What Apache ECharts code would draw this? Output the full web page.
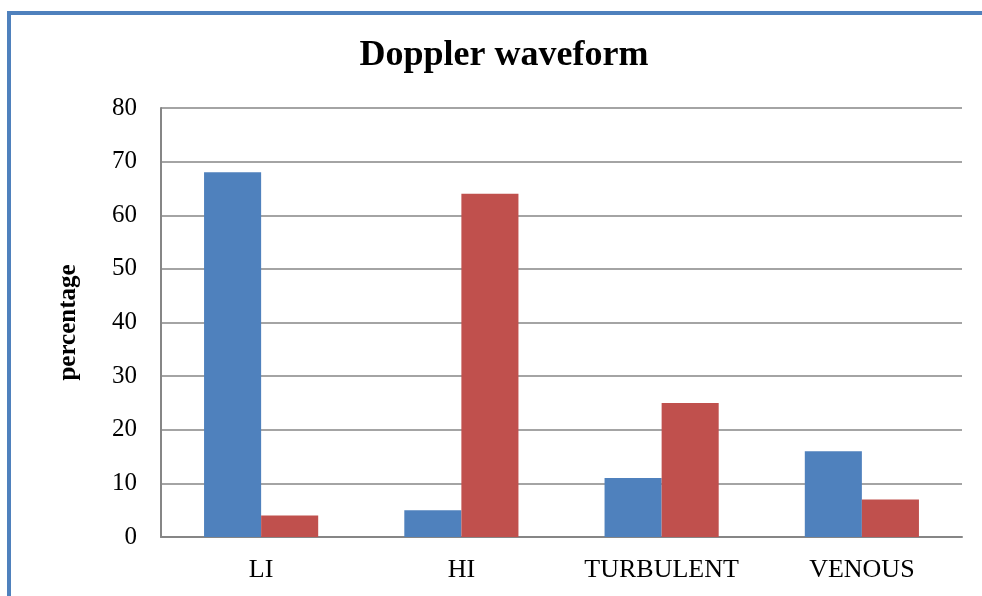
<!DOCTYPE html>
<html>
<head>
<meta charset="utf-8">
<script src="https://cdn.jsdelivr.net/npm/echarts@6/dist/echarts.min.js"></script>
<style>
  html, body { margin: 0; padding: 0; background: #fff; }
  #frame { position: absolute; left: 7px; top: 11px; width: 1000px; height: 620px;
           border-left: 4px solid #4F81BD; border-top: 4px solid #4F81BD; box-sizing: border-box; }
  #chart { position: absolute; left: 0; top: 0; width: 982px; height: 596px; }
</style>
</head>
<body>
<div id="frame"></div>
<div id="chart"></div>
<script>
// Doppler waveform categories and the two groups' percentages
const categories = ['LI', 'HI', 'TURBULENT', 'VENOUS'];
const seriesA = [68, 5, 11, 16];
const seriesB = [4, 64, 25, 7];
const yTicks = [0, 10, 20, 30, 40, 50, 60, 70, 80];

const chart = echarts.init(document.getElementById('chart'), null, { renderer: 'canvas' });
const serif = '"Liberation Serif", "Times New Roman", serif';

chart.setOption({
  backgroundColor: 'transparent',
  animation: false,
  title: {
    text: 'Doppler waveform',
    left: 499, top: 33, textAlign: 'center',
    textStyle: { fontFamily: serif, fontSize: 36, fontWeight: 'bold', color: '#000' }
  },
  grid: { left: 161, right: 20, top: 108, bottom: 59, containLabel: false },
  xAxis: {
    type: 'category',
    data: categories,
    axisLine: { show: true, lineStyle: { color: '#868686', width: 2 } },
    axisTick: { show: false },
    axisLabel: { interval: 0, hideOverlap: false, fontFamily: serif, fontSize: 26, color: '#000', margin: 20 }
  },
  yAxis: {
    type: 'value',
    min: yTicks[0], max: yTicks[yTicks.length - 1], interval: 10,
    name: 'percentage',
    nameLocation: 'middle',
    nameGap: 80,
    nameRotate: 90,
    nameTextStyle: { fontFamily: serif, fontSize: 25, fontWeight: 'bold', color: '#000' },
    axisLine: { show: true, lineStyle: { color: '#868686', width: 2 } },
    axisTick: { show: false },
    splitLine: { show: true, lineStyle: { color: '#868686', width: 1.5 } },
    axisLabel: { fontFamily: serif, fontSize: 25, color: '#000', margin: 24 }
  },
  series: [
    { type: 'bar', data: seriesA, barGap: '0%', barCategoryGap: '43%',
      itemStyle: { color: '#4F81BD' } },
    { type: 'bar', data: seriesB, barGap: '0%', barCategoryGap: '43%',
      itemStyle: { color: '#C0504D' } }
  ]
});
</script>
</body>
</html>
